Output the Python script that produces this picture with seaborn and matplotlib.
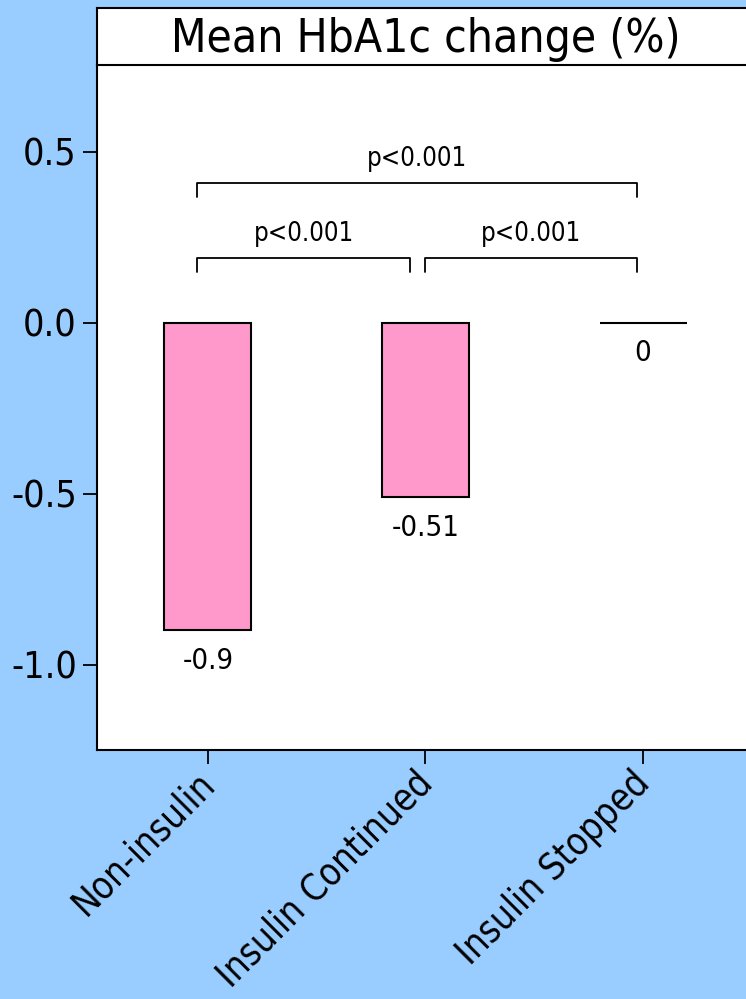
import matplotlib
matplotlib.use("Agg")
import matplotlib.pyplot as plt
import matplotlib.transforms as mtransforms
import seaborn as sns
import pandas as pd

# data
groups = ["Non-insulin", "Insulin Continued", "Insulin Stopped"]
hba1c_change = [-0.9, -0.51, 0.0]
value_labels = ["-0.9", "-0.51", "0"]
y_ticks = [-1.0, -0.5, 0.0, 0.5]

# significance brackets: (x start, x end, height, label)
bracket_x0 = [-0.05, 1.0, -0.05]
bracket_x1 = [0.93, 1.97, 1.97]
bracket_y = [0.19, 0.19, 0.41]
bracket_text = ["p<0.001", "p<0.001", "p<0.001"]

sns.set_theme(style="ticks")
plt.rcParams['font.family'] = ['DejaVu Sans']
plt.rcParams['font.stretch'] = 'condensed'
plt.rcParams['axes.unicode_minus'] = False
plt.rcParams['text.color'] = 'black'
plt.rcParams['xtick.color'] = 'black'
plt.rcParams['ytick.color'] = 'black'

bg = "#99CCFF"
pink = "#FF99CC"

fig = plt.figure(figsize=(7.46, 9.99), dpi=100, facecolor=bg)
ax = fig.add_axes([0.130, 0.2492, 0.8807, 0.6857])
ax.set_facecolor("white")

df = pd.DataFrame({"group": groups, "change": hba1c_change})
sns.barplot(data=df, x="group", y="change", color=pink, saturation=1,
            edgecolor="black", linewidth=1.5, width=0.4, ax=ax)

ax.set_xlim(-0.51, 2.51)
ax.set_ylim(-1.25, 0.754)
ax.set_yticks(y_ticks)
ax.set_yticklabels([f"{t:.1f}" for t in y_ticks])
ax.set_xlabel("")
ax.set_ylabel("")

for s in ["top", "right"]:
    ax.spines[s].set_visible(False)
for s in ["left", "bottom"]:
    ax.spines[s].set_linewidth(1.5)
    ax.spines[s].set_color("black")

ax.tick_params(axis="y", length=10, width=1.3, labelsize=27, pad=4.5)
ax.tick_params(axis="x", length=10, width=1.3, labelsize=26.5, pad=2)
shift = mtransforms.ScaledTranslation(-0.12, 0.02, fig.dpi_scale_trans)
for lab in ax.get_xticklabels():
    lab.set_rotation(45)
    lab.set_ha("right")
    lab.set_rotation_mode("anchor")
    lab.set_transform(lab.get_transform() + shift)

# value labels under each bar
for i, (v, lab) in enumerate(zip(hba1c_change, value_labels)):
    ax.annotate(lab, (i, v), xytext=(0, -22), textcoords="offset points",
                ha="center", va="center", fontsize=21)

# significance brackets
for x0, x1, y, t in zip(bracket_x0, bracket_x1, bracket_y, bracket_text):
    drop = 0.042
    ax.plot([x0, x0, x1, x1], [y - drop, y, y, y - drop], color="black", lw=1.3)
    ax.text((x0 + x1) / 2, y + 0.07, t, ha="center", va="center", fontsize=18.5)

# title box
tax = fig.add_axes([0.130, 0.9349, 0.8807, 0.0571])
tax.set_facecolor("white")
tax.set_xticks([])
tax.set_yticks([])
for s in tax.spines.values():
    s.set_linewidth(1.5)
    s.set_color("black")
tax.text(0.5, 0.45, "Mean HbA1c change (%)", ha="center", va="center",
         fontsize=33, transform=tax.transAxes)

fig.savefig("out.png", dpi=100, facecolor=bg)
